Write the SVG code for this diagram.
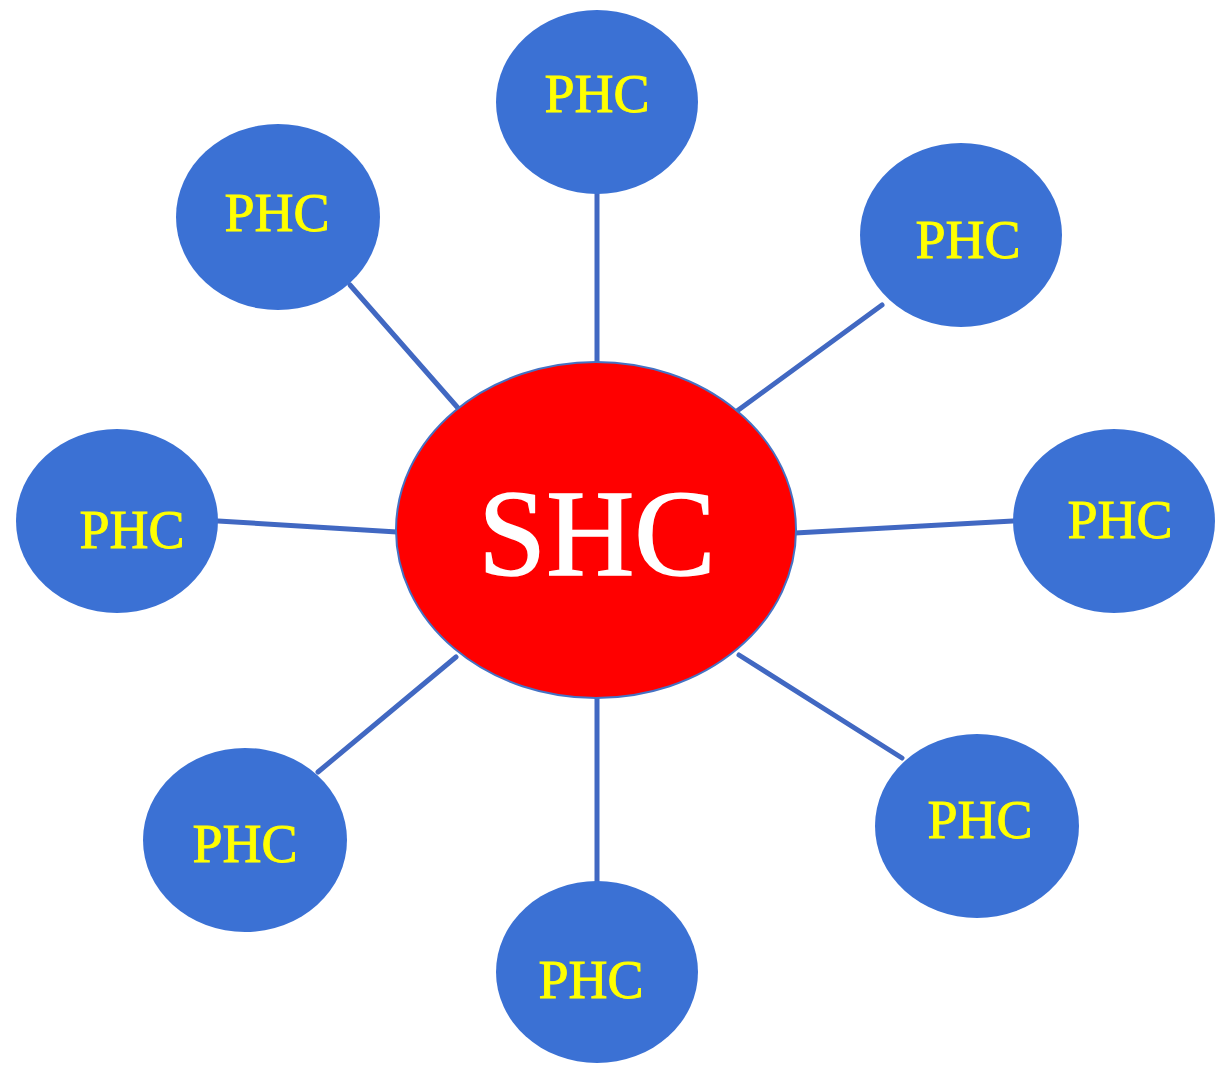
<svg xmlns="http://www.w3.org/2000/svg" width="1217" height="1066" viewBox="0 0 1217 1066">
<style>
.phc ellipse{fill:#3B71D4;}
.phc text{fill:#FFFF00;stroke:#FFFF00;stroke-width:0.9px;font-family:"Liberation Serif","Times New Roman",serif;font-size:54px;text-anchor:middle;}
#connectors line{stroke:#4168C2;stroke-width:5;stroke-linecap:round;}
</style>
<rect width="1217" height="1066" fill="#FFFFFF"/>
<g id="connectors">
<line x1="597" y1="192" x2="597" y2="365"/>
<line x1="350" y1="285" x2="458" y2="408"/>
<line x1="882" y1="305" x2="737" y2="411"/>
<line x1="218" y1="521" x2="397" y2="532"/>
<line x1="1013" y1="521" x2="795" y2="533"/>
<line x1="318" y1="772" x2="456" y2="657"/>
<line x1="902" y1="758" x2="739" y2="655"/>
<line x1="597" y1="696" x2="597" y2="884"/>
</g>
<g id="phc-top" class="phc"><ellipse cx="597" cy="102" rx="101" ry="92"/><text x="597" y="112">PHC</text></g>
<g id="phc-top-left" class="phc"><ellipse cx="278" cy="217" rx="102" ry="93"/><text x="277" y="231">PHC</text></g>
<g id="phc-top-right" class="phc"><ellipse cx="961" cy="235" rx="101" ry="92"/><text x="968" y="258">PHC</text></g>
<g id="phc-left" class="phc"><ellipse cx="117" cy="521" rx="101" ry="92"/><text x="132" y="548">PHC</text></g>
<g id="phc-right" class="phc"><ellipse cx="1114" cy="521" rx="101" ry="92"/><text x="1120" y="538">PHC</text></g>
<g id="phc-bottom-left" class="phc"><ellipse cx="245" cy="840" rx="102" ry="92"/><text x="245" y="862">PHC</text></g>
<g id="phc-bottom-right" class="phc"><ellipse cx="977" cy="826" rx="102" ry="92"/><text x="980" y="838">PHC</text></g>
<g id="phc-bottom" class="phc"><ellipse cx="597" cy="972" rx="101" ry="91"/><text x="591" y="998">PHC</text></g>
<g id="shc"><ellipse cx="596" cy="530" rx="200" ry="168" fill="#FF0000" stroke="#4472C4" stroke-width="2"/><text x="597" y="575" fill="#FFFFFF" stroke="#FFFFFF" stroke-width="1.5" font-family="'Liberation Serif','Times New Roman',serif" font-size="122" text-anchor="middle">SHC</text></g>
</svg>
